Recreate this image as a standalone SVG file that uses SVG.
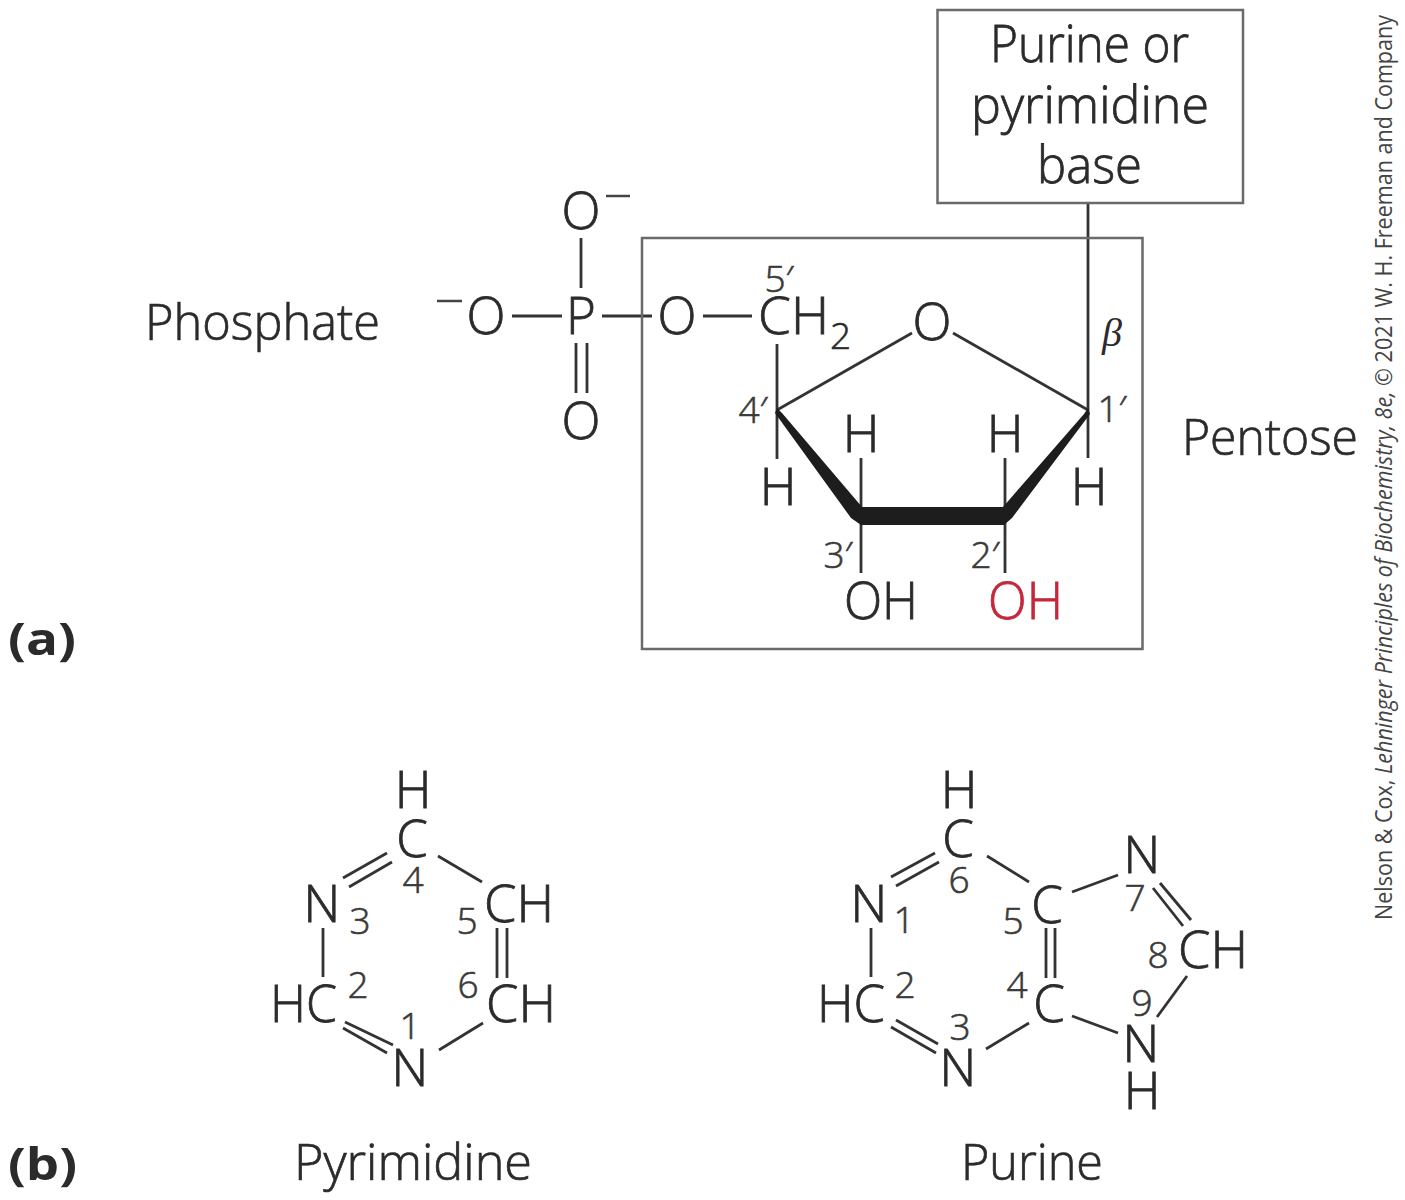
<svg xmlns="http://www.w3.org/2000/svg" width="1405" height="1200" viewBox="0 0 1405 1200">
<style>
text{font-family:"Open Sans","Noto Sans","Liberation Sans",sans-serif;fill:#2b2b2b}
.a{font-size:51px;font-weight:300;text-anchor:middle;stroke:#2b2b2b;stroke-width:.8px}
.s{font-size:51px;font-weight:300;stroke:#2b2b2b;stroke-width:.8px}
.l{font-size:50px;font-weight:300;stroke:#2b2b2b;stroke-width:.7px}
.n{font-size:37px;font-weight:300;text-anchor:middle;fill:#3a3a3a;stroke:#3a3a3a;stroke-width:.6px}
.sub{font-size:37px;font-weight:300;stroke:#2b2b2b;stroke-width:.6px}
.b{font-size:44px;font-weight:700}
.red{fill:#c4283c;stroke:#c4283c}
.box{fill:none;stroke:#6a6a6a;stroke-width:2.5}
.bond line{stroke:#333;stroke-width:2.8}
</style>
<rect width="1405" height="1200" fill="#fff"/>
<g id="connectors" class="bond">
<line x1="512" y1="316" x2="562" y2="316"/><line x1="602" y1="316" x2="652" y2="316"/><line x1="703" y1="316" x2="752" y2="316"/>
<line x1="581" y1="238" x2="581" y2="288"/><line x1="576" y1="343" x2="576" y2="393"/><line x1="587" y1="343" x2="587" y2="393"/>
<line x1="777" y1="344" x2="777" y2="459"/><line x1="777" y1="410" x2="912" y2="333"/><line x1="953" y1="333" x2="1088" y2="410"/><line x1="1088" y1="203" x2="1088" y2="458"/>
<line x1="861" y1="458" x2="861" y2="510"/><line x1="861" y1="520" x2="861" y2="573"/><line x1="1005" y1="458" x2="1005" y2="510"/><line x1="1005" y1="520" x2="1005" y2="573"/>
<polygon points="777,408 782,413 862,507 1003,507 1084,414 1088,408 1090,414 1012,518 1004,525 861,525 851,518 775,413" fill="#1d1d1d"/>
<line x1="387" y1="853" x2="343" y2="878"/><line x1="392" y1="862" x2="349" y2="887"/><line x1="438" y1="856" x2="482" y2="882"/>
<line x1="323" y1="928" x2="323" y2="977"/><line x1="497" y1="928" x2="497" y2="978"/><line x1="507" y1="928" x2="507" y2="978"/>
<line x1="345" y1="1022" x2="393" y2="1045"/><line x1="343" y1="1028" x2="387" y2="1053"/><line x1="483" y1="1023" x2="439" y2="1050"/>
<line x1="935" y1="853" x2="891" y2="877"/><line x1="939" y1="862" x2="896" y2="886"/><line x1="987" y1="856" x2="1029" y2="882"/>
<line x1="1072" y1="892" x2="1118" y2="875"/><line x1="1160" y1="883" x2="1191" y2="920"/><line x1="1153" y1="888" x2="1183" y2="926"/>
<line x1="1187" y1="976" x2="1157" y2="1017"/><line x1="1072" y1="1016" x2="1118" y2="1033"/><line x1="1046" y1="928" x2="1046" y2="978"/><line x1="1055" y1="928" x2="1055" y2="978"/>
<line x1="871" y1="928" x2="871" y2="977"/><line x1="896" y1="1020" x2="938" y2="1044"/><line x1="891" y1="1027" x2="936" y2="1053"/><line x1="986" y1="1049" x2="1029" y2="1023"/>
</g>
<g id="base-box"><rect class="box" x="937.500" y="10" width="305.500" height="193"/>
<text class="s" x="990" y="62" textLength="199" lengthAdjust="spacingAndGlyphs">Purine or</text>
<text class="s" x="971" y="123" textLength="238" lengthAdjust="spacingAndGlyphs">pyrimidine</text>
<text class="s" x="1037" y="183" textLength="105" lengthAdjust="spacingAndGlyphs">base</text></g>
<g id="phosphate">
<text class="l" x="145" y="340" textLength="235" lengthAdjust="spacingAndGlyphs">Phosphate</text>
<text class="a" x="581" y="229">O</text><line x1="606" y1="196" x2="630" y2="196" stroke="#444" stroke-width="2.500"/>
<line x1="437" y1="301" x2="462" y2="301" stroke="#444" stroke-width="2.500"/>
<text class="a" x="486" y="334">O</text><text class="a" x="581" y="334">P</text><text class="a" x="581" y="439">O</text>
</g>
<g id="pentose"><rect class="box" x="642" y="238" width="500.500" height="411"/>
<text class="l" x="1182" y="455" textLength="176" lengthAdjust="spacingAndGlyphs">Pentose</text>
<text class="a" x="677" y="334">O</text>
<text class="s" x="758" y="334" textLength="71" lengthAdjust="spacingAndGlyphs">CH</text><text class="sub" x="830" y="349">2</text>
<text class="a" x="932" y="340">O</text>
<text class="a" x="778" y="505">H</text><text class="a" x="861" y="452">H</text><text class="a" x="1005" y="452">H</text><text class="a" x="1089" y="505">H</text>
<text class="s" x="844" y="619" textLength="74" lengthAdjust="spacingAndGlyphs">OH</text>
<text class="s red" x="988" y="619" textLength="75" lengthAdjust="spacingAndGlyphs">OH</text>
<text class="n" x="779" y="292">5′</text><text class="n" x="753" y="423">4′</text><text class="n" x="838" y="568">3′</text><text class="n" x="985" y="568">2′</text><text class="n" x="1112" y="422">1′</text>
<text x="1112" y="346" style="font-family:'Liberation Serif',serif;font-style:italic;font-size:40px;text-anchor:middle">β</text>
</g>
<g id="pyrimidine">
<text class="a" x="413" y="808">H</text><text class="a" x="412" y="857">C</text><text class="a" x="322" y="922">N</text>
<text class="s" x="484" y="922" textLength="70" lengthAdjust="spacingAndGlyphs">CH</text><text class="s" x="486" y="1022" textLength="70" lengthAdjust="spacingAndGlyphs">CH</text>
<text class="s" x="270" y="1022" textLength="67" lengthAdjust="spacingAndGlyphs">HC</text><text class="a" x="410" y="1086">N</text>
<text class="n" x="410" y="1039">1</text><text class="n" x="358" y="998">2</text><text class="n" x="360" y="934">3</text><text class="n" x="413" y="893">4</text><text class="n" x="467" y="934">5</text><text class="n" x="468" y="998">6</text>
<text class="l" x="294" y="1180" textLength="238" lengthAdjust="spacingAndGlyphs">Pyrimidine</text>
</g>
<g id="purine">
<text class="a" x="959" y="808">H</text><text class="a" x="958" y="857">C</text><text class="a" x="869" y="922">N</text>
<text class="a" x="1047" y="923">C</text><text class="a" x="1049" y="1022">C</text><text class="a" x="1142" y="873">N</text>
<text class="s" x="1178" y="968" textLength="70" lengthAdjust="spacingAndGlyphs">CH</text>
<text class="s" x="817" y="1022" textLength="68" lengthAdjust="spacingAndGlyphs">HC</text>
<text class="a" x="958" y="1086">N</text><text class="a" x="1141" y="1062">N</text><text class="a" x="1142" y="1109">H</text>
<text class="n" x="904" y="933">1</text><text class="n" x="905" y="998">2</text><text class="n" x="960" y="1040">3</text><text class="n" x="1017" y="998">4</text><text class="n" x="1013" y="934">5</text><text class="n" x="959" y="893">6</text><text class="n" x="1135" y="911">7</text><text class="n" x="1158" y="968">8</text><text class="n" x="1142" y="1016">9</text>
<text class="l" x="961" y="1180" textLength="142" lengthAdjust="spacingAndGlyphs">Purine</text>
</g>
<g id="panel-labels"><text class="b" x="8" y="655" textLength="68" lengthAdjust="spacingAndGlyphs">(a)</text><text class="b" x="8" y="1180" textLength="69" lengthAdjust="spacingAndGlyphs">(b)</text></g>
<text transform="translate(1392 920) rotate(-90)" style="font-size:23px;fill:#444" textLength="905" lengthAdjust="spacingAndGlyphs">Nelson &amp; Cox, <tspan font-style="italic">Lehninger Principles of Biochemistry, 8e,</tspan> © 2021 W. H. Freeman and Company</text>
</svg>
